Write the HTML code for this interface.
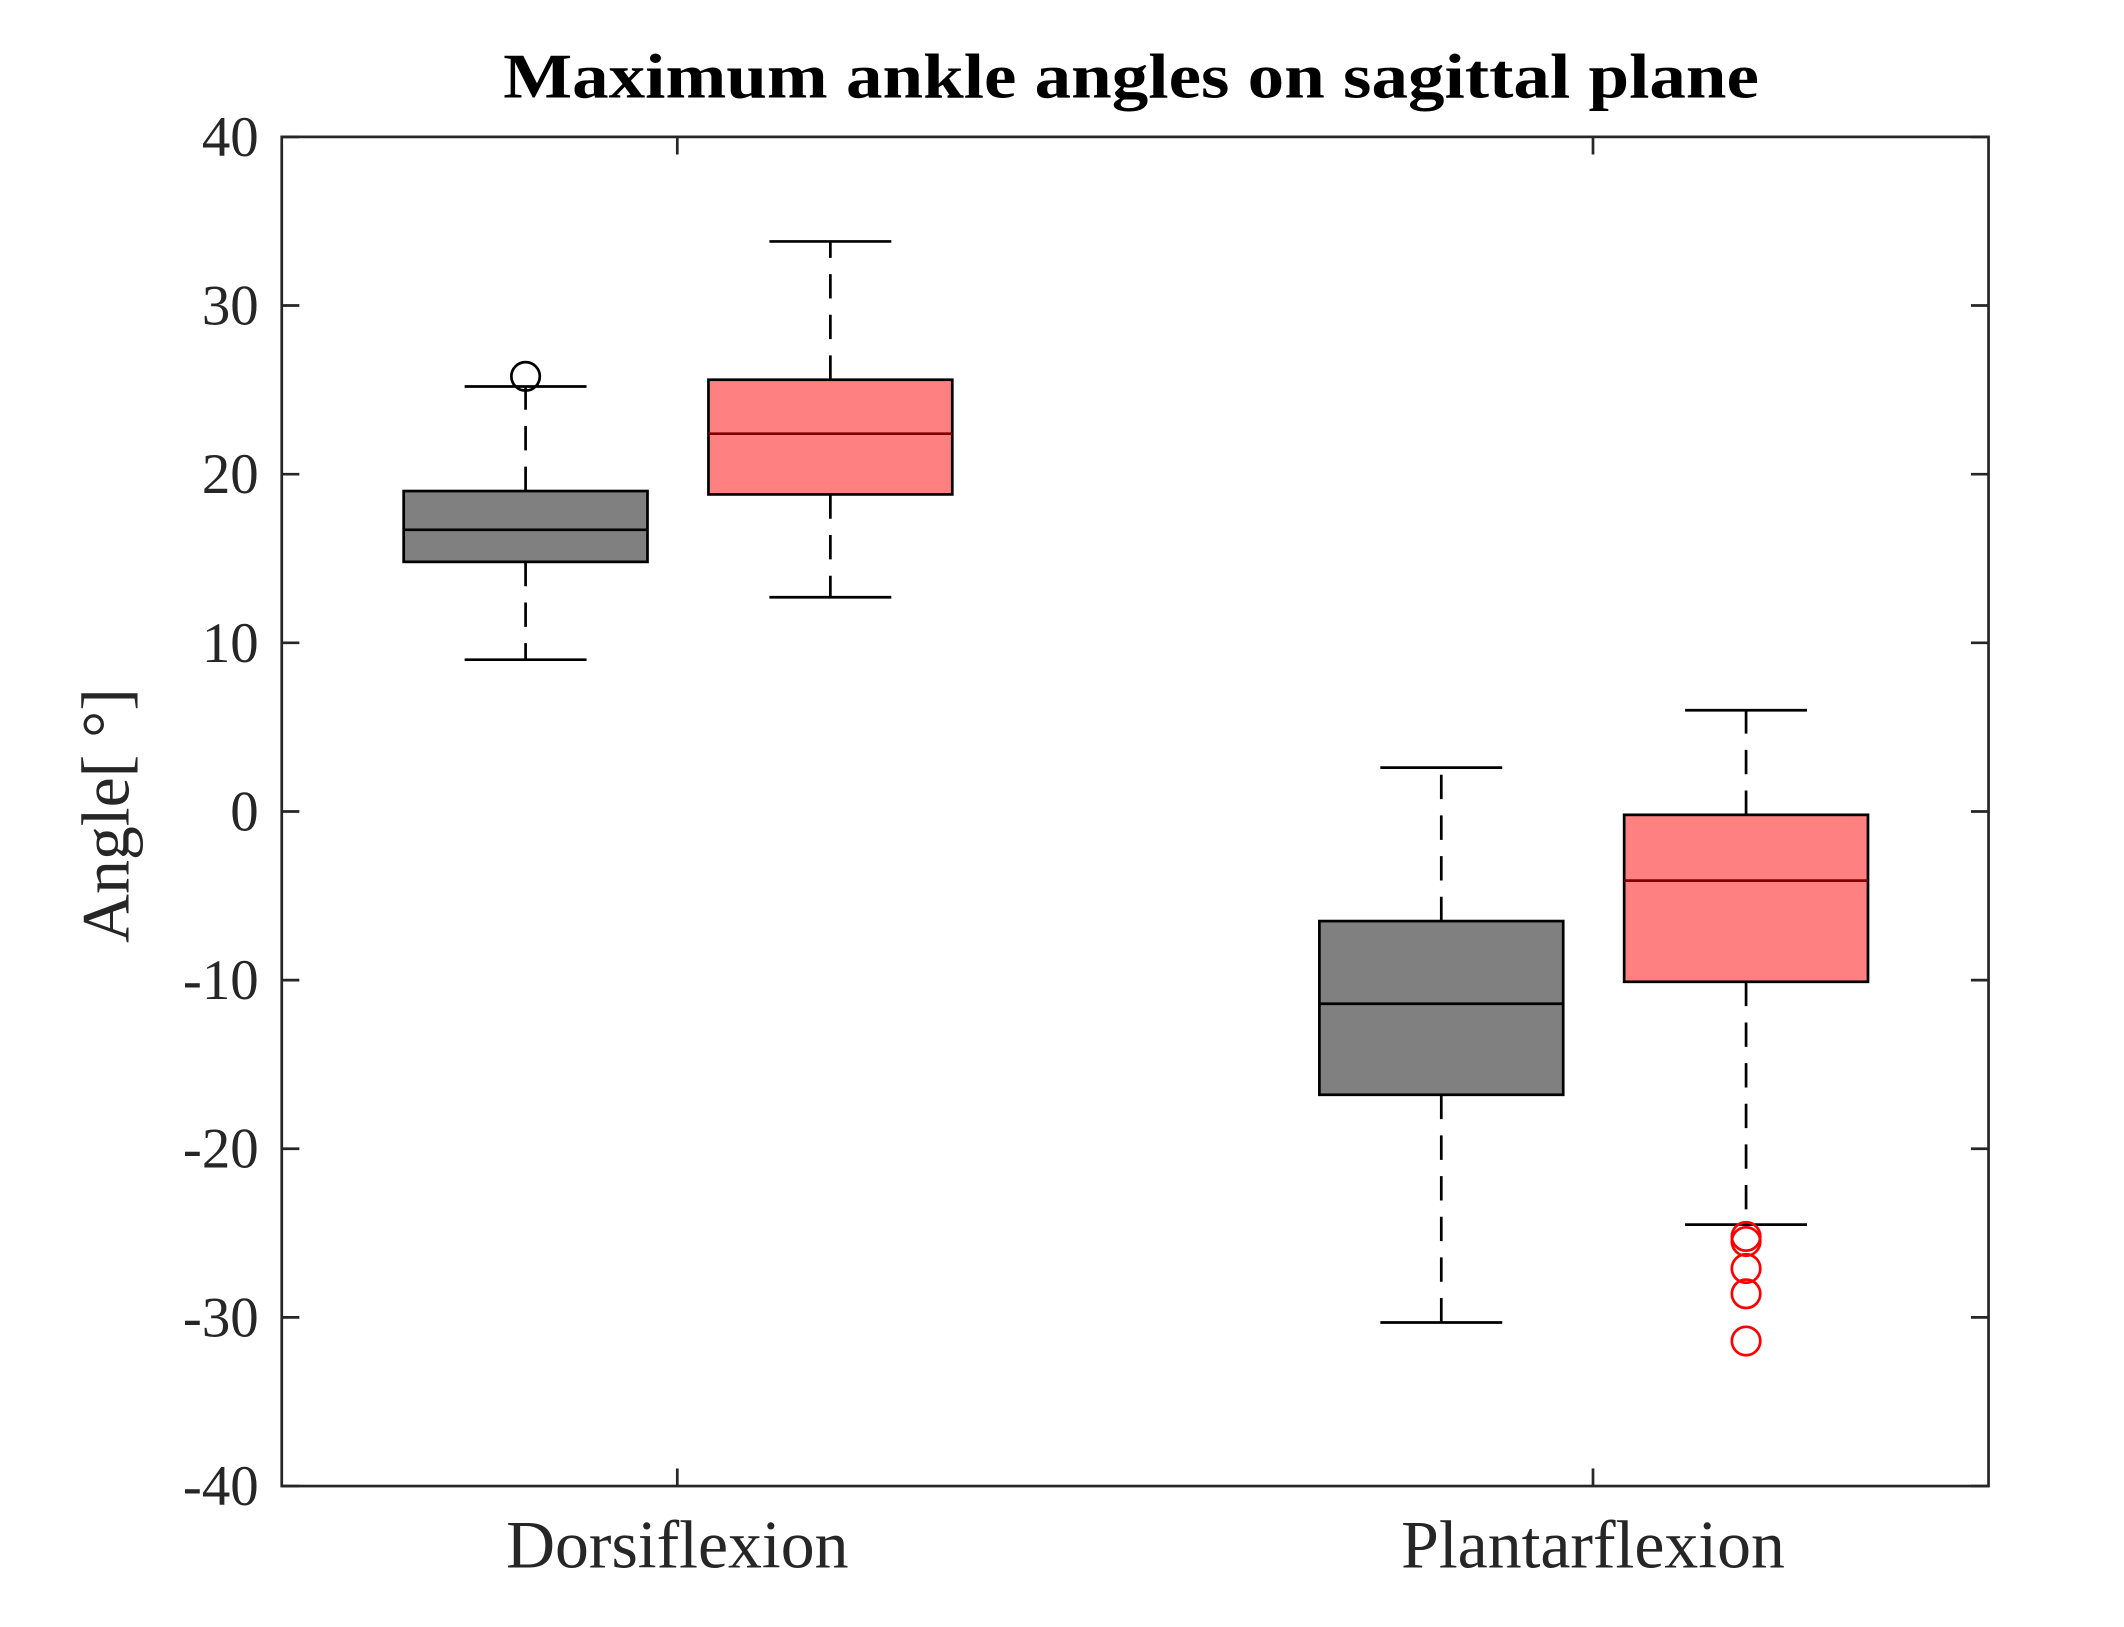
<!DOCTYPE html>
<html><head><meta charset="utf-8"><style>html,body{margin:0;padding:0;background:#fff}svg{display:block}</style></head>
<body>
<svg id="chart" width="2124" height="1627" viewBox="0 0 1568 1201" xmlns="http://www.w3.org/2000/svg" font-family="'Liberation Serif', serif">
<rect width="1568" height="1201" fill="#fff"/>
<text x="835" y="72" text-anchor="middle" font-size="47" font-weight="bold" fill="#000" textLength="927" lengthAdjust="spacingAndGlyphs">Maximum ankle angles on sagittal plane</text>
<text transform="translate(95,602) rotate(-90)" text-anchor="middle" font-size="50" fill="#262626">Angle[ °]</text>
<g id="axes"></g>
<g id="marks"></g>
</svg>
<script>
const categories = ["Dorsiflexion", "Plantarflexion"];
const yTicks = [40, 30, 20, 10, 0, -10, -20, -30, -40];
const seriesColors = ["#808080", "#ff8080"];
const lowerWhisker = [[9, 12.7], [-30.3, -24.5]];
const q1 = [[14.8, 18.8], [-16.8, -10.1]];
const median = [[16.7, 22.4], [-11.4, -4.1]];
const q3 = [[19, 25.6], [-6.5, -0.2]];
const upperWhisker = [[25.2, 33.8], [2.6, 6]];
const outliers = [[[25.8], []], [[], [-25.2, -25.5, -27.1, -28.6, -31.4]]];

const L = 208, R = 1468, T = 101, B = 1097;
const y = v => T + (40 - v) / 80 * (B - T);
const xc = i => 500 + i * 676;
const offs = [-112, 113];
const NS = "http://www.w3.org/2000/svg";
const axes = document.getElementById('axes'), marks = document.getElementById('marks');
function mk(tag, attrs, parent) { const e = document.createElementNS(NS, tag); for (const k in attrs) e.setAttribute(k, attrs[k]); parent.appendChild(e); return e; }

const frame = mk('rect', {x: L, y: T, width: R - L, height: B - T, fill: 'none', stroke: '#262626', 'stroke-width': 2}, axes);


yTicks.forEach(t => {
  const yy = y(t);
  mk('line', {x1: L, x2: L + 13, y1: yy, y2: yy, stroke: '#262626', 'stroke-width': 2}, axes);
  mk('line', {x1: R, x2: R - 13, y1: yy, y2: yy, stroke: '#262626', 'stroke-width': 2}, axes);
  const tx = mk('text', {x: L - 17, y: yy + 14, 'text-anchor': 'end', 'font-size': 42, fill: '#262626'}, axes);
  tx.textContent = t;
  
  
});
categories.forEach((c, i) => {
  const x = xc(i);
  mk('line', {x1: x, x2: x, y1: B, y2: B - 13, stroke: '#262626', 'stroke-width': 2}, axes);
  mk('line', {x1: x, x2: x, y1: T, y2: T + 13, stroke: '#262626', 'stroke-width': 2}, axes);
  const tx = mk('text', {x: x, y: 1157, 'text-anchor': 'middle', 'font-size': 50, fill: '#262626'}, axes);
  tx.textContent = c;
  
  
});

const bw = 180;
for (let i = 0; i < categories.length; i++) {
  for (let s = 0; s < 2; s++) {
    const cx = xc(i) + offs[s];
    const g = mk('g', {}, marks);
    
    
    const st = {stroke: '#000', 'stroke-width': 2};
    mk('line', Object.assign({x1: cx, x2: cx, y1: y(q3[i][s]), y2: y(upperWhisker[i][s]), 'stroke-dasharray': '18,12'}, st), g);
    mk('line', Object.assign({x1: cx, x2: cx, y1: y(q1[i][s]), y2: y(lowerWhisker[i][s]), 'stroke-dasharray': '18,12'}, st), g);
    mk('line', Object.assign({x1: cx - bw / 4, x2: cx + bw / 4, y1: y(upperWhisker[i][s]), y2: y(upperWhisker[i][s])}, st), g);
    mk('line', Object.assign({x1: cx - bw / 4, x2: cx + bw / 4, y1: y(lowerWhisker[i][s]), y2: y(lowerWhisker[i][s])}, st), g);
    mk('rect', Object.assign({x: cx - bw / 2, y: y(q3[i][s]), width: bw, height: y(q1[i][s]) - y(q3[i][s]), fill: seriesColors[s]}, st), g);
    mk('line', {x1: cx - bw / 2, x2: cx + bw / 2, y1: y(median[i][s]), y2: y(median[i][s]), stroke: s ? '#800000' : '#000', 'stroke-width': 2}, g);
    outliers[i][s].forEach(v => {
      const c = mk('circle', {cx: cx, cy: y(v), r: 10.5, fill: 'none', stroke: s ? '#ff0000' : '#000', 'stroke-width': 2}, g);
      
      
    });
  }
}
</script>
</body></html>
